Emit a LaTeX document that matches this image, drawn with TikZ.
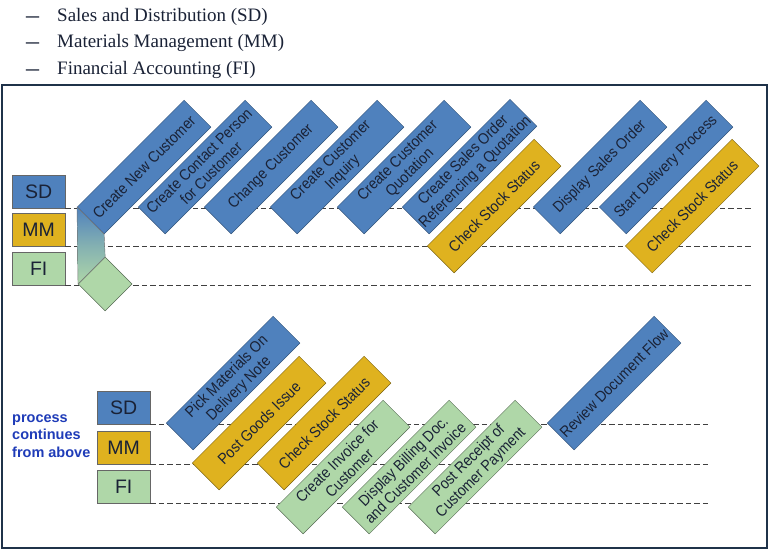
\documentclass[tikz,border=0pt]{standalone}
\usepackage{fontspec}
\setmainfont{Liberation Serif}
\setsansfont{Liberation Sans}
\newfontfamily\boxfont[FakeStretch=0.9]{Liberation Sans}
\usetikzlibrary{positioning, calc, shapes, arrows.meta}

\definecolor{sdblue}{HTML}{4F81BD}
\definecolor{mmgold}{HTML}{DFB21F}
\definecolor{figreen}{HTML}{AFD7A8}
\definecolor{framecol}{HTML}{1F3249}
\definecolor{notecol}{HTML}{1F3CB8}
\definecolor{inkcol}{HTML}{1A2236}

\begin{document}
\begin{tikzpicture}[x=1pt, y=-1pt,
    task/.style={rectangle, draw, rotate=45, anchor=north west, minimum width=151pt, minimum height=38pt, inner sep=0.5pt, align=center, text=inkcol, font=\boxfont\fontsize{15.5}{17}\selectfont},
    sdtask/.style={task, fill=sdblue, draw=sdblue!65!black},
    mmtask/.style={task, fill=mmgold, draw=mmgold!55!black},
    fitask/.style={task, fill=figreen, draw=figreen!50!black},
    lane/.style={rectangle, draw=black!60, anchor=north west, minimum width=53pt, minimum height=33pt, inner sep=0pt, text=inkcol, font=\sffamily\fontsize{19.5}{19.5}\selectfont},
    swim/.style={black!75, dash pattern=on 5.5pt off 3pt, line width=0.8pt},
    item/.style={anchor=west, inner sep=0pt, text=inkcol, font=\fontsize{19}{20}\selectfont},
    itemdash/.style={item, font=\fontsize{26}{26}\selectfont}
]
    \useasboundingbox (0,0) rectangle (769,552);

    % module list
    \node[itemdash] (dashA) at (26,20) {–};
    \node[item] (modSD) at (57,16.5) {Sales and Distribution (SD)};
    \node[itemdash] (dashB) at (26,46) {–};
    \node[item] (modMM) at (57,42.5) {Materials Management (MM)};
    \node[itemdash] (dashC) at (26,73) {–};
    \node[item] (modFI) at (57,69.5) {Financial Accounting (FI)};

    \draw[framecol, line width=2pt] (2,85) rectangle (767,548);

    % upper lanes
    \node[lane, fill=sdblue] (sdA) at (12,175) {SD};
    \node[lane, fill=mmgold] (mmA) at (12,213) {MM};
    \node[lane, fill=figreen] (fiA) at (12,252) {FI};
    \coordinate (endA) at (753,0);
    \draw[swim] (sdA.south east) -- (sdA.south east -| endA);
    \draw[swim] (mmA.south east) -- (mmA.south east -| endA);
    \draw[swim] (fiA.south east) -- (fiA.south east -| endA);

    \node[sdtask] (newcust) at (77,207) {Create New Customer};
    \node[task, fill=figreen, draw=figreen!50!black, minimum width=38pt] (start) at (78,284) {};
    \shadedraw[top color=sdblue, bottom color=figreen, middle color=sdblue!45!figreen, draw=black!55]
        (newcust.north west) -- (newcust.south west) -- (start.north east) -- (start.north west) -- cycle;

    \node[sdtask] (contact) at (138,207) {Create Contact Person\\for Customer};
    \node[sdtask] (change) at (204,207) {Change Customer};
    \node[sdtask] (inquiry) at (270,207) {Create Customer\\Inquiry};
    \node[sdtask] (quotation) at (337,207) {Create Customer\\Quotation};
    \node[sdtask] (order) at (402,207) {Create Sales Order\\Referencing a Quotation};
    \node[mmtask] (stockA) at (427,246) {Check Stock Status};
    \node[sdtask] (display) at (533,207) {Display Sales Order};
    \node[sdtask] (delivery) at (599,207) {Start Delivery Process};
    \node[mmtask] (stockB) at (625,246) {Check Stock Status};

    % lower lanes
    \node[anchor=west, align=left, inner sep=0pt, text=notecol, font=\sffamily\bfseries\fontsize{14.5}{17.5}\selectfont] (cont) at (12,436) {process\\continues\\from above};
    \node[lane, fill=sdblue] (sdB) at (97,391) {SD};
    \node[lane, fill=mmgold] (mmB) at (97,431) {MM};
    \node[lane, fill=figreen] (fiB) at (97,470) {FI};
    \coordinate (endB) at (708,0);
    \draw[swim] (sdB.south east) -- (sdB.south east -| endB);
    \draw[swim] (mmB.south east) -- (mmB.south east -| endB);
    \draw[swim] (fiB.south east) -- (fiB.south east -| endB);

    \node[sdtask] (pick) at (166,423) {Pick Materials On\\Delivery Note};
    \node[mmtask] (goods) at (192,463) {Post Goods Issue};
    \node[mmtask] (stockC) at (257,463) {Check Stock Status};
    \node[fitask] (invoice) at (276,507) {Create Invoice for\\Customer};
    \node[fitask] (billing) at (342,507) {Display Billing Doc.\\and Customer Invoice};
    \node[fitask] (payment) at (408,507) {Post Receipt of\\Customer Payment};
    \node[sdtask] (review) at (547,423) {Review Document Flow};

\end{tikzpicture}
\end{document}
